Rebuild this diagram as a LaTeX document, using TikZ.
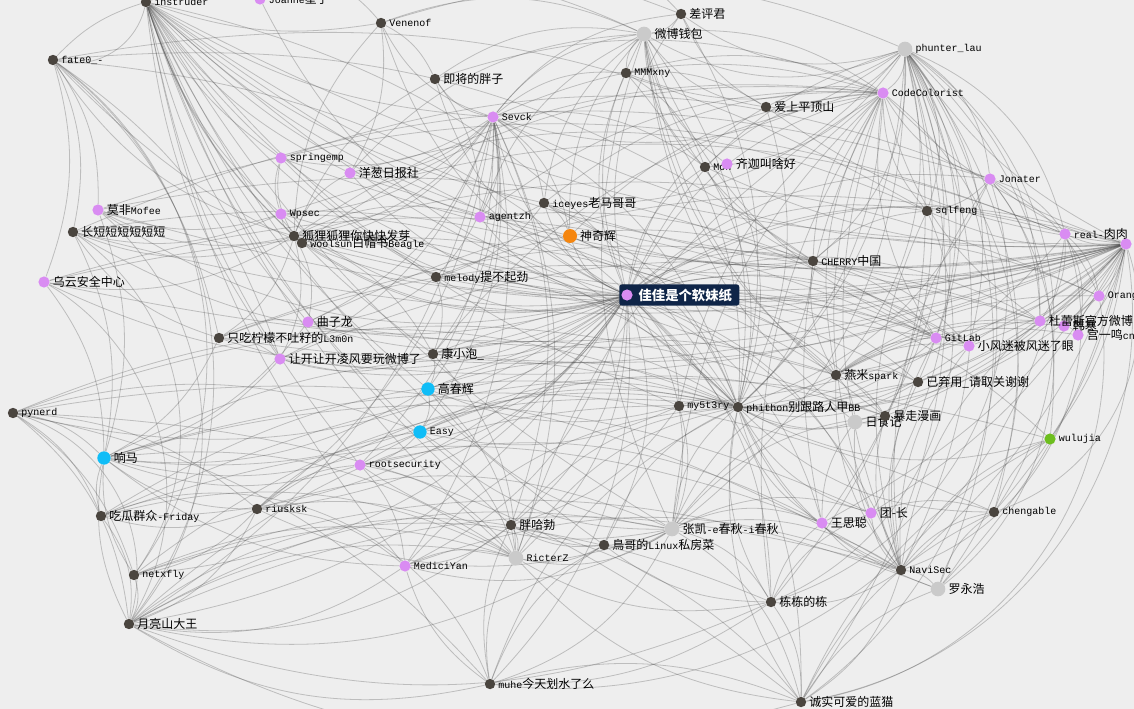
\documentclass[tikz,border=0pt]{standalone}
\usepackage{fontspec}
\setmainfont{Liberation Mono}
\newfontfamily\cjk{Noto Sans CJK SC}
\usetikzlibrary{backgrounds}
\definecolor{paper}{HTML}{EEEEEE}
\definecolor{userdark}{HTML}{4A453F}
\definecolor{userpink}{HTML}{D98CF2}
\definecolor{usergrey}{HTML}{CACACA}
\definecolor{usercyan}{HTML}{10BDF7}
\definecolor{userorange}{HTML}{F5860F}
\definecolor{usergreen}{HTML}{6DBE1E}
\definecolor{tagnavy}{HTML}{0F2548}
\newcommand{\zh}[1]{{\cjk\fontsize{9}{10}\selectfont #1}}

\begin{document}
\begin{tikzpicture}[
  x=0.75pt,
  y=-0.75pt,
  every node/.style={font=\fontsize{7.5}{8}\selectfont, text=black},
  every label/.style={inner sep=0.5pt, font=\fontsize{7.5}{8}\selectfont},
  label distance=1.5pt,
  user/.style={circle, inner sep=0pt, minimum size=7.8pt},
  dark/.style={user, fill=userdark},
  pink/.style={user, fill=userpink, minimum size=8.4pt},
  grey/.style={user, fill=usergrey, minimum size=11pt},
  cyan/.style={user, fill=usercyan, minimum size=10pt},
  orange/.style={user, fill=userorange, minimum size=10.5pt},
  green/.style={user, fill=usergreen, minimum size=8.4pt},
  tagbox/.style={fill=tagnavy, rounded corners=2pt, inner sep=1pt,
    minimum height=16pt, text=white},
  link/.style={draw=black!70, line width=.6pt, opacity=.3},
  sweep/.style={link, bend left=45}
]
  \useasboundingbox (0,0) rectangle (1134,709);
  \clip (0,0) rectangle (1134,709);

  % ---------------- top rows ----------------
  \node[dark, label=right:instruder] (ins) at (146,2) {};
  \node[pink, label=right:{Joanne\zh{星子}}] (joa) at (260,-1) {};
  \node[dark, label=right:fate0\_-] (fat) at (53,60) {};
  \node[dark, label=right:Venenof] (ven) at (381,23) {};
  \node[dark, label=right:\zh{差评君}] (cha) at (681,14) {};
  \node[grey, label=right:\zh{微博钱包}] (qb) at (644,34) {};
  \node[grey, label=right:phunter\_lau] (phu) at (905,49) {};
  \node[dark, label=right:\zh{即将的胖子}] (jjp) at (435,79) {};
  \node[dark, label=right:MMMxny] (mmm) at (626,73) {};
  \node[pink, label=right:CodeColorist] (cod) at (883,93) {};
  \node[dark, label=right:\zh{爱上平顶山}] (asp) at (766,107) {};
  \node[pink, label=right:Sevck] (sev) at (493,117) {};
  \node[pink, label=right:springemp] (spr) at (281,158) {};
  \node[pink, label=right:\zh{洋葱日报社}] (ycr) at (350,173) {};
  \node[dark, label=right:Mon] (mon) at (705,167) {};
  \node[pink, label=right:\zh{齐迦叫啥好}] (qjj) at (727,164) {};
  \node[pink, label=right:Jonater] (jon) at (990,179) {};
  \node[pink, label=right:\zh{莫非}Mofee] (mof) at (98,210) {};
  \node[dark, label=right:\zh{长短短短短短短}] (cdd) at (73,232) {};
  \node[pink, label=right:Wpsec] (wps) at (281,214) {};
  \node[pink, label=right:agentzh] (age) at (480,217) {};
  \node[dark, label=right:iceyes\zh{老马哥哥}] (ice) at (544,203) {};
  \node[dark, label=right:sqlfeng] (sql) at (927,211) {};
  \node[dark, label=right:\zh{狐狸狐狸你快快发芽}] (hl) at (294,236) {};
  \node[dark, label=right:woolsun\zh{白帽书}Beagle] (woo) at (302,243) {};
  \node[orange, label=right:\zh{神奇辉}] (sqh) at (570,236) {};
  \node[pink, label=right:real-\zh{肉肉}] (rea) at (1065,234) {};
  \node[pink] (rgt) at (1126,244) {};

  % ---------------- middle band ----------------
  \node[pink, label=right:\zh{乌云安全中心}] (wy) at (44,282) {};
  \node[dark, label=right:melody\zh{提不起劲}] (mel) at (436,277) {};
  \node[dark, label=right:CHERRY\zh{中国}] (che) at (813,261) {};
  \node[pink, label=right:Orange] (ora) at (1099,296) {};
  \node[pink, label=right:\zh{曲子龙}] (qzl) at (308,322) {};
  \node[dark, label=right:\zh{只吃柠檬不吐籽的}L3m0n] (zcn) at (219,338) {};
  \node[pink, label=right:GitLab] (git) at (936,338) {};
  \node[pink, label=right:\zh{小风迷被风迷了眼}] (xf) at (969,346) {};
  \node[pink, label=right:\zh{韩寒}] (hh) at (1064,326) {};
  \node[pink, label=right:\zh{杜蕾斯官方微博}] (dls) at (1040,321) {};
  \node[pink, label=right:\zh{宫一鸣}cn] (gym) at (1078,335) {};
  \node[pink, label=right:\zh{让开让开凌风要玩微博了}] (rk) at (280,359) {};
  \node[dark, label=right:\zh{康小泡\_}] (kxp) at (433,354) {};
  \node[dark, label=right:\zh{燕米}spark] (ym) at (836,375) {};
  \node[dark, label=right:\zh{已弃用\_请取关谢谢}] (yqy) at (918,382) {};
  \node[cyan, label=right:\zh{高春辉}] (gch) at (428,389) {};
  \node[dark, label=right:my5t3ry] (mys) at (679,406) {};
  \node[dark, label=right:phithon\zh{别跟路人甲}BB] (phi) at (738,407) {};
  \node[grey, label=right:\zh{日食记}] (rsj) at (855,422) {};
  \node[dark, label=right:\zh{暴走漫画}] (bzm) at (885,416) {};
  \node[dark, label=right:pynerd] (pyn) at (13,413) {};
  \node[cyan, label=right:Easy] (eas) at (420,432) {};
  \node[green, label=right:wulujia] (wul) at (1050,439) {};
  \node[cyan, label=right:\zh{响马}] (xm) at (104,458) {};
  \node[pink, label=right:rootsecurity] (roo) at (360,465) {};

  % ---------------- bottom rows ----------------
  \node[dark, label=right:riusksk] (riu) at (257,509) {};
  \node[dark, label=right:\zh{吃瓜群众}-Friday] (cgq) at (101,516) {};
  \node[pink, label=right:\zh{团-长}] (tz) at (871,513) {};
  \node[dark, label=right:chengable] (chg) at (994,512) {};
  \node[pink, label=right:\zh{王思聪}] (wsc) at (822,523) {};
  \node[dark, label=right:\zh{胖哈勃}] (phb) at (511,525) {};
  \node[grey, label=right:\zh{张凯}-e\zh{春秋}-i\zh{春秋}] (zk) at (672,529) {};
  \node[dark, label=right:\zh{鳥哥的}Linux\zh{私房菜}] (ng) at (604,545) {};
  \node[grey, label=right:RicterZ] (ric) at (516,558) {};
  \node[pink, label=right:MediciYan] (med) at (405,566) {};
  \node[dark, label=right:NaviSec] (nav) at (901,570) {};
  \node[grey, label=right:\zh{罗永浩}] (lyh) at (938,589) {};
  \node[dark, label=right:netxfly] (net) at (134,575) {};
  \node[dark, label=right:\zh{栋栋的栋}] (ddd) at (771,602) {};
  \node[dark, label=right:\zh{月亮山大王}] (yls) at (129,624) {};
  \node[dark, label=right:muhe\zh{今天划水了么}] (muh) at (490,684) {};
  \node[dark, label=right:\zh{诚实可爱的蓝猫}] (lm) at (801,702) {};

  % the selected user
  \node[tagbox, anchor=west, minimum width=90pt] (jjtag) at (619,295)
    {\hspace{9pt}{\cjk\bfseries\fontsize{10}{12}\selectfont 佳佳是个软妹纸}};
  \node[pink] (jj) at (627,295) {};

  % ---------------- links ----------------
  \begin{scope}[on background layer]
    \fill[paper] (0,0) rectangle (1134,709);
    \clip (0,0) rectangle (1134,709);
    \foreach \t in {ins,ven,cha,qb,phu,jjp,mmm,cod,asp,sev,spr,ycr,mon,jon,
        mof,wps,age,ice,sql,hl,woo,sqh,rea,rgt,wy,mel,che,ora,qzl,zcn,git,xf,
        dls,rk,kxp,ym,yqy,gch,mys,bzm,pyn,eas,wul,xm,roo,riu,cgq,tz,wsc,phb,
        zk,ng,ric,med,nav,net,ddd,yls,muh,lm,fat,cdd,joa}
      \draw[link] (jj) to[bend left=24] (\t);
    \foreach \t in {ins,fat,qb,phu,cod,sev,mon,qjj,jon,ice,sqh,rea,rgt,che,
        ora,git,xf,dls,kxp,ym,yqy,gch,mys,bzm,rsj,eas,xm,roo,riu,tz,chg,wsc,
        phb,zk,ng,ric,med,nav,ddd,yls,muh,lm,cgq,mel,hl,wps,pyn,net,cha,mmm,
        asp,lyh,wul}
      \draw[link] (phi) to[bend right=22] (\t);
    \foreach \t in {ins,phu,cod,jon,sql,rea,che,ora,dls,hh,gym,git,xf,ym,yqy,
        mys,wul,chg,nav,lyh,tz,wsc,hl,woo,zcn,qzl,rk,mel,kxp,ice,sev,spr,ycr,
        wps,mon,asp,rsj,bzm,mof,cdd,wy}
      \draw[link] (rgt) to[bend left=14] (\t);
    \foreach \t in {fat,sev,age,hl,woo,mel,kxp,qzl,rk,ric,med,zk,ycr,sqh,ice,
        gch,eas,phb,mys,ym,che,ven,spr,wps,roo,ng,git}
      \draw[link] (ins) to[bend right=14] (\t);
    \foreach \t in {cod,jon,rea,sql,git,xf,che,ym,nav,chg,ddd,lm,mmm,asp,mon,
        sev,qb,cha,ice,dls,tz,wsc,yqy,bzm,zk,lyh,wul}
      \draw[link] (phu) to[bend left=26] (\t);
    \foreach \t in {sev,mon,ice,sqh,che,ym,git,dls,nav,tz,wsc,ddd,ric,zk,jon,
        sql,mys,asp,mmm,qb,hl,woo,age,kxp}
      \draw[link] (cod) to[bend right=20] (\t);
    \foreach \t in {ven,jjp,spr,ycr,wps,age,ice,hl,woo,mel,kxp,gch,eas,rk,qzl,
        roo,med,ric,phb,mon,mmm,qb,cha,sqh,riu,yls}
      \draw[link] (sev) to[bend left=22] (\t);
    \foreach \t in {mmm,cha,asp,mon,qjj,ice,sqh,che,ym,jjp,ven,age,ycr,git,zk,
        bzm,rsj}
      \draw[link] (qb) to[bend right=22] (\t);
    \foreach \t in {ric,ng,phb,med,riu,tz,wsc,nav,ddd,lm,muh,ym,yqy,roo,eas,
        gch,bzm}
      \draw[link] (zk) to[bend left=22] (\t);
    \foreach \t in {phb,ng,med,riu,muh,roo,eas,gch,kxp,yls,net,cgq,xm,lm,ddd}
      \draw[link] (ric) to[bend right=20] (\t);
    \foreach \t in {tz,wsc,chg,lyh,ddd,lm,ym,yqy,bzm,rsj,git,xf,dls,wul,sql,jon}
      \draw[link] (nav) to[bend left=20] (\t);
    \foreach \t in {cgq,net,yls,pyn,riu,roo,rk,zcn,qzl,mof,cdd,wy,eas,gch,med}
      \draw[link] (xm) to[bend right=18] (\t);
    \foreach \t in {woo,wps,spr,ycr,mof,cdd,wy,qzl,zcn,rk,mel,kxp,age,ven,jjp,
        fat}
      \draw[link] (hl) to[bend left=20] (\t);
    \foreach \t in {net,cgq,riu,med,ng,muh,lm,ddd,pyn,phb}
      \draw[link] (yls) to[bend right=22] (\t);
    \foreach \a/\b in {fat/cdd,fat/mof,fat/wy,fat/rk,fat/zcn,pyn/eas,pyn/riu,
        pyn/net,pyn/cgq,pyn/muh,pyn/lm,ddd/muh,ddd/lm,ddd/wsc,ddd/tz,ddd/ng,
        muh/med,muh/phb,muh/ng,muh/lm,lm/lyh,lm/chg,lm/wul,ym/git,ym/xf,
        ym/yqy,ym/bzm,ym/rsj,ym/che,ym/dls,ym/gym,ym/hh,ym/ora,che/sql,
        che/ice,che/sqh,che/mon,che/xf,che/git,jon/rea,jon/sql,jon/dls,
        jon/ora,rea/ora,rea/dls,rea/gym,mys/phb,mys/zk,mys/eas,mys/gch,
        riu/cgq,riu/net,riu/med,riu/roo,riu/eas,ice/age,ice/sqh,ice/mel,
        mel/kxp,mel/qzl,kxp/gch,kxp/rk,gch/eas,eas/roo,roo/med,wps/spr,
        wps/mof,wps/cdd,zcn/qzl,zcn/rk,zcn/cdd,mmm/mon,mmm/asp,asp/cha,
        ven/jjp,ven/ycr,jjp/age,tz/wsc,tz/chg,wsc/rsj,bzm/rsj,chg/wul,
        lyh/chg,git/xf,xf/dls,dls/hh,hh/gym,gym/ora,ng/phb,phb/med}
      \draw[link] (\a) to[bend left=18] (\b);
    % long links across the whole width
    \foreach \a/\b in {mof/rea,cdd/jon,wy/git,zcn/dls,pyn/nav,xm/chg,
        cgq/wul,net/lyh,yls/nav,fat/sql,mof/xf,cdd/ym,wy/yqy,zcn/git,
        rk/dls,qzl/rgt,pyn/bzm,xm/tz,cgq/wsc,net/ddd,yls/zk,fat/che,
        spr/jon,wps/rea,ycr/sql,age/git,ven/phu,jjp/cod,ins/cha,joa/qb,
        riu/zk,med/nav,roo/wsc,eas/bzm,gch/ym,kxp/xf,mel/che,hl/ora}
      \draw[link] (\a) to[bend left=20] (\b);
    % long sweeps that leave the frame
    \foreach \a/\b in {phu/lm,rgt/lm,jon/ddd,rea/muh,cod/lyh,ora/lm,
        ins/fat,fat/yls,cdd/net,wy/yls,cgq/muh,pyn/yls,sql/ddd,rea/nav,
        phu/chg,jon/lyh,rgt/chg,ins/ven,joa/cha,fat/net,mof/yls,yls/lm}
      \draw[sweep] (\a) to (\b);
  \end{scope}
\end{tikzpicture}
\end{document}
